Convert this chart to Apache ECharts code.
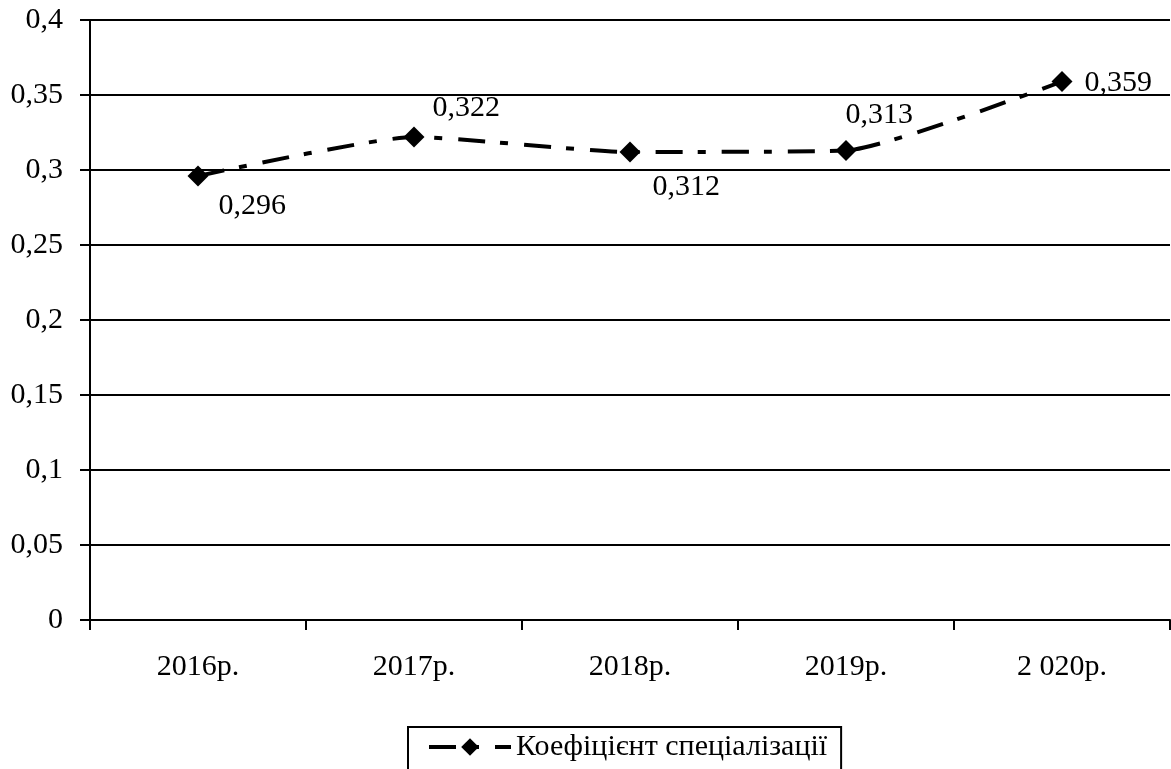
<!DOCTYPE html>
<html>
<head>
<meta charset="utf-8">
<script src="https://cdn.jsdelivr.net/npm/echarts@6/dist/echarts.min.js"></script>
<style>html,body{margin:0;padding:0;background:#fff;}#c{width:1171px;height:769px;}</style>
</head>
<body>
<div id="c"></div>
<script>
const categories = ['2016р.', '2017р.', '2018р.', '2019р.', '2 020р.'];
const values = [0.296, 0.322, 0.312, 0.313, 0.359];
const seriesName = 'Коефіцієнт спеціалізації';
const yTicks = { min: 0, max: 0.4, interval: 0.05 };

const labelOffsets = [[10, 30], [8, -29], [12, 35], [-11, -35], [12, 2]];
const fmt = v => String(+Number(v).toFixed(3)).replace('.', ',');
const font = "'Liberation Serif', 'DejaVu Serif', serif";
const fs = 30;

const chart = echarts.init(document.getElementById('c'));
chart.setOption({
  animation: false,
  backgroundColor: '#fff',
  grid: { left: 90, right: 1, top: 20, bottom: 149, containLabel: false },
  xAxis: {
    type: 'category',
    data: categories,
    boundaryGap: true,
    axisLine: { lineStyle: { color: '#000', width: 2 } },
    axisTick: { show: true, length: 10, lineStyle: { color: '#000', width: 2 } },
    axisLabel: { color: '#000', fontFamily: font, fontSize: fs, margin: 32 },
    splitLine: { show: false }
  },
  yAxis: {
    type: 'value',
    min: yTicks.min, max: yTicks.max, interval: yTicks.interval,
    axisLine: { show: true, lineStyle: { color: '#000', width: 2 } },
    axisTick: { show: true, length: 10, lineStyle: { color: '#000', width: 2 } },
    axisLabel: { color: '#000', fontFamily: font, fontSize: fs, margin: 27, formatter: v => fmt(v) },
    splitLine: { show: true, lineStyle: { color: '#000', width: 2 } }
  },
  legend: {
    left: 408, top: 727,
    padding: [5, 14, 20, 19],
    borderColor: '#000', borderWidth: 2,
    itemWidth: 82, itemHeight: 22, itemGap: 0,
    lineStyle: { width: 4 },
    textStyle: { color: '#000', fontFamily: font, fontSize: fs },
    data: [seriesName]
  },
  series: [{
    name: seriesName,
    type: 'line',
    data: values.map((v, i) => ({
      value: v,
      label: { offset: labelOffsets[i] }
    })),
    smooth: 0.17,
    symbol: 'diamond',
    symbolSize: 21,
    itemStyle: { color: '#000' },
    lineStyle: { color: '#000', width: 4, type: [27, 15, 8, 16], cap: 'butt' },
    label: {
      show: true, position: 'right', distance: 0,
      color: '#000', fontFamily: font, fontSize: fs,
      formatter: p => fmt(p.value)
    }
  }]
});
</script>
</body>
</html>
